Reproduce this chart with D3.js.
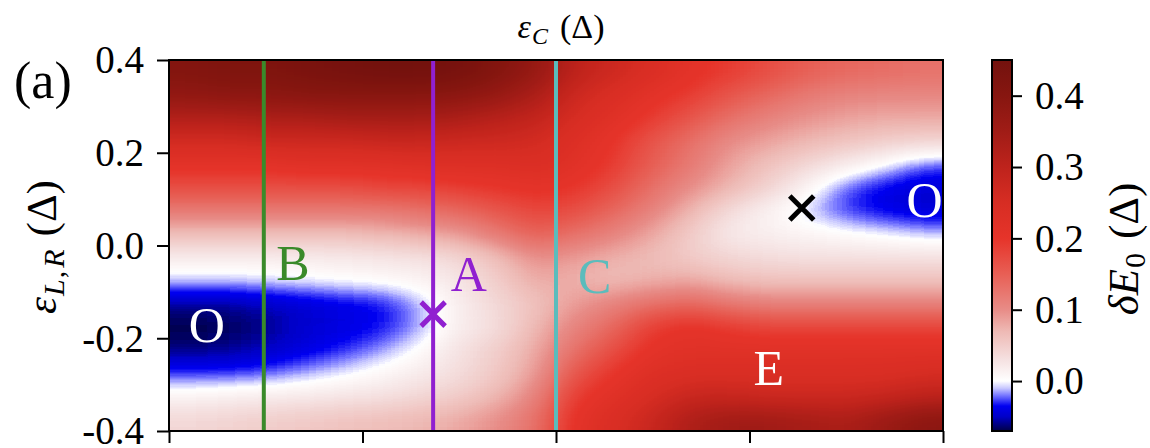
<!DOCTYPE html>
<html>
<head>
<meta charset="utf-8">
<script src="https://cdn.jsdelivr.net/npm/d3@7"></script>
<style>
body { margin: 0; background: #fff; }
svg text { font-family: "Liberation Serif", "DejaVu Serif", serif; fill: #000; }
</style>
</head>
<body>
<div id="chart"></div>
<script>
// eps_C cell centres (x) and eps_L,R cell centres (y), in units of Delta
const epsC = [-0.38,-0.34,-0.30,-0.26,-0.22,-0.18,-0.14,-0.10,-0.06,-0.02,0.02,0.06,0.10,0.14,0.18,0.22,0.26,0.30,0.34,0.38];
const epsLR = [0.375,0.325,0.275,0.225,0.175,0.125,0.075,0.025,-0.025,-0.075,-0.125,-0.175,-0.225,-0.275,-0.325,-0.375];

// delta E_0, one row per epsLR value
const dE0 = [
  [0.41,0.42,0.42,0.43,0.44,0.45,0.45,0.44,0.41,0.37,0.30,0.27,0.24,0.21,0.19,0.17,0.15,0.14,0.135,0.13],
  [0.38,0.39,0.39,0.40,0.40,0.40,0.40,0.39,0.37,0.33,0.27,0.24,0.21,0.19,0.16,0.14,0.12,0.11,0.105,0.105],
  [0.32,0.32,0.33,0.33,0.34,0.34,0.34,0.33,0.31,0.29,0.25,0.22,0.19,0.16,0.13,0.11,0.095,0.085,0.08,0.08],
  [0.26,0.26,0.27,0.27,0.27,0.28,0.28,0.27,0.27,0.26,0.23,0.20,0.16,0.13,0.10,0.085,0.07,0.06,0.05,0.045],
  [0.21,0.21,0.21,0.22,0.22,0.22,0.23,0.23,0.23,0.24,0.22,0.19,0.15,0.12,0.085,0.06,0.04,0.02,0.0,-0.025],
  [0.17,0.17,0.17,0.17,0.17,0.18,0.18,0.19,0.20,0.21,0.20,0.17,0.13,0.10,0.07,0.045,0.01,-0.025,-0.04,-0.045],
  [0.12,0.12,0.12,0.12,0.12,0.12,0.13,0.14,0.16,0.18,0.17,0.14,0.11,0.07,0.035,0.012,-0.008,-0.03,-0.04,-0.045],
  [0.065,0.065,0.065,0.065,0.065,0.07,0.08,0.09,0.12,0.15,0.13,0.11,0.08,0.05,0.02,0.015,0.01,0.003,-0.003,-0.01],
  [0.02,0.02,0.02,0.02,0.022,0.025,0.03,0.04,0.065,0.10,0.09,0.075,0.065,0.05,0.04,0.035,0.03,0.03,0.03,0.03],
  [-0.008,-0.008,-0.006,-0.003,0.002,0.005,0.012,0.025,0.05,0.08,0.075,0.065,0.075,0.08,0.065,0.06,0.06,0.06,0.06,0.06],
  [-0.058,-0.058,-0.052,-0.045,-0.04,-0.035,-0.012,0.018,0.04,0.06,0.09,0.11,0.13,0.14,0.12,0.11,0.11,0.11,0.11,0.11],
  [-0.07,-0.068,-0.06,-0.048,-0.042,-0.036,-0.015,0.018,0.035,0.07,0.11,0.14,0.19,0.21,0.19,0.18,0.18,0.18,0.18,0.18],
  [-0.062,-0.06,-0.052,-0.042,-0.032,-0.018,0.004,0.03,0.05,0.08,0.13,0.17,0.21,0.22,0.22,0.22,0.22,0.22,0.22,0.22],
  [-0.03,-0.03,-0.025,-0.015,-0.004,0.008,0.02,0.035,0.055,0.09,0.16,0.20,0.23,0.24,0.24,0.24,0.24,0.24,0.24,0.25],
  [0.012,0.015,0.02,0.022,0.025,0.03,0.04,0.05,0.07,0.11,0.19,0.22,0.25,0.28,0.28,0.27,0.27,0.27,0.28,0.30],
  [0.04,0.045,0.05,0.055,0.06,0.065,0.07,0.08,0.10,0.13,0.21,0.24,0.28,0.33,0.35,0.35,0.34,0.33,0.36,0.39]
];

const yTicks = [0.4, 0.2, 0.0, -0.2, -0.4];
const xTicks = [-0.4, -0.2, 0.0, 0.2, 0.4];
const cbTicks = [0.0, 0.1, 0.2, 0.3, 0.4];

// vertical cuts
const cutNames = ["B", "A", "C"];
const cutX = [-0.302, -0.127, 0.0];

// region labels
const regionText = ["O", "B", "A", "C", "E", "O"];
const regionX = [-0.361, -0.272, -0.090, 0.040, 0.220, 0.381];
const regionY = [-0.208, -0.074, -0.098, -0.102, -0.301, 0.061];

// crossing points
const crossX = [-0.127, 0.254];
const crossY = [-0.148, 0.081];

// colour map
const vMin = -0.07, vMax = 0.45;
const stopVals = [-0.07,-0.05,-0.035,-0.02,-0.01,0.0,0.03,0.07,0.10,0.15,0.20,0.25,0.30,0.35,0.40,0.45];
const stopCols = ["#000046","#0000c8","#0000f0","#7878ff","#c8c8ff","#ffffff","#f5e1e1","#eeb9b4","#e88c87","#e85f55","#e6342a","#d72d23","#be231c","#a01c16","#871610","#73120e"];

const regionCols = ["#fff", "#3a8a2a", "#9020d0", "#5bbcbc", "#fff", "#fff"];
const cutCols = ["#3a8a2a", "#9020d0", "#5bbcbc"];
const crossCols = ["#9020d0", "#000"];

const width = 1150, height = 448;
const pLeft = 169, pRight = 943, pTop = 60, pBottom = 431;

const svg = d3.select("#chart").append("svg")
  .attr("width", width)
  .attr("height", height);

const x = d3.scaleLinear().domain([-0.4, 0.4]).range([pLeft, pRight]);
const y = d3.scaleLinear().domain([-0.4, 0.4]).range([pBottom, pTop]);
const color = d3.scaleLinear().domain(stopVals).range(stopCols).clamp(true);
const norm = d3.scaleLinear().domain([vMin, vMax]).range([0, 255]).clamp(true);

const defs = svg.append("defs");
defs.append("clipPath").attr("id", "plotclip")
  .append("rect")
  .attr("x", pLeft).attr("y", pTop)
  .attr("width", pRight - pLeft).attr("height", pBottom - pTop);

// cells are painted as grey levels, smoothed, then run through the colour map
const lut = d3.range(209).map(k => d3.rgb(color(vMin + k / 208 * (vMax - vMin))));
const filt = defs.append("filter").attr("id", "smooth")
  .attr("filterUnits", "userSpaceOnUse")
  .attr("color-interpolation-filters", "sRGB")
  .attr("x", -100).attr("y", -100).attr("width", 1400).attr("height", 700);
filt.append("feGaussianBlur").attr("stdDeviation", "18 11");
const ct = filt.append("feComponentTransfer");
ct.append("feFuncR").attr("type", "table").attr("tableValues", lut.map(c => (c.r / 255).toFixed(4)).join(" "));
ct.append("feFuncG").attr("type", "table").attr("tableValues", lut.map(c => (c.g / 255).toFixed(4)).join(" "));
ct.append("feFuncB").attr("type", "table").attr("tableValues", lut.map(c => (c.b / 255).toFixed(4)).join(" "));

const cells = [];
dE0.forEach((row, j) => row.forEach((v, i) => cells.push({i: i, j: j, v: v})));
const hx = 0.02, hy = 0.025, pad = 80;

svg.append("g")
  .attr("clip-path", "url(#plotclip)")
  .append("g")
  .attr("filter", "url(#smooth)")
  .selectAll("rect")
  .data(cells)
  .enter()
  .append("rect")
  .attr("x", d => x(epsC[d.i] - hx) - (d.i === 0 ? pad : 0))
  .attr("y", d => y(epsLR[d.j] + hy) - (d.j === 0 ? pad : 0))
  .attr("width", d => x(epsC[d.i] + hx) - x(epsC[d.i] - hx) + 0.6 + (d.i === 0 || d.i === epsC.length - 1 ? pad : 0))
  .attr("height", d => y(epsLR[d.j] - hy) - y(epsLR[d.j] + hy) + 0.6 + (d.j === 0 || d.j === epsLR.length - 1 ? pad : 0))
  .attr("fill", d => { const g = Math.round(norm(d.v)); return d3.rgb(g, g, g); });

// vertical cuts
svg.selectAll(".cut")
  .data(cutX)
  .enter()
  .append("line")
  .attr("class", "cut")
  .attr("x1", d => x(d)).attr("x2", d => x(d))
  .attr("y1", y(0.4)).attr("y2", y(-0.4))
  .attr("stroke", (d, i) => cutCols[i])
  .attr("stroke-width", 4);

// region labels
svg.selectAll(".region")
  .data(regionText)
  .enter()
  .append("text")
  .attr("class", "region")
  .attr("x", (d, i) => x(regionX[i]))
  .attr("y", (d, i) => y(regionY[i]))
  .attr("text-anchor", "middle")
  .style("font-size", "50px")
  .style("fill", (d, i) => regionCols[i])
  .text(d => d);

// crosses
svg.selectAll(".cross")
  .data(crossX)
  .enter()
  .append("path")
  .attr("class", "cross")
  .attr("transform", (d, i) => "translate(" + x(d) + "," + y(crossY[i]) + ")")
  .attr("d", "M-12,-12L12,12M-12,12L12,-12")
  .attr("stroke", (d, i) => crossCols[i])
  .attr("stroke-width", 5)
  .attr("fill", "none");

// frame
svg.append("rect")
  .attr("x", pLeft).attr("y", pTop)
  .attr("width", pRight - pLeft).attr("height", pBottom - pTop)
  .attr("fill", "none").attr("stroke", "#000").attr("stroke-width", 2);

const fmt = d => d3.format(".1f")(d).replace("\u2212", "-");

const yAxis = svg.append("g")
  .attr("transform", "translate(" + pLeft + ",0)")
  .call(d3.axisLeft(y).tickValues(yTicks).tickSize(12).tickPadding(13).tickFormat(fmt));
yAxis.select(".domain").remove();
yAxis.selectAll("line").attr("stroke-width", 2);
yAxis.selectAll("text").style("font-size", "39px").style("font-family", "Liberation Serif").attr("dy", "0.33em");

const xAxis = svg.append("g")
  .attr("transform", "translate(0," + pBottom + ")")
  .call(d3.axisBottom(x).tickValues(xTicks).tickSize(12).tickFormat(""));
xAxis.select(".domain").remove();
xAxis.selectAll("line").attr("stroke-width", 2);

// colour bar
const cbLeft = 992, cbW = 20;
const cb = d3.scaleLinear().domain([vMin, vMax]).range([pBottom, pTop]);
const grad = defs.append("linearGradient").attr("id", "cbgrad")
  .attr("x1", 0).attr("y1", 1).attr("x2", 0).attr("y2", 0);
grad.selectAll("stop")
  .data(stopVals)
  .enter()
  .append("stop")
  .attr("offset", d => (d - vMin) / (vMax - vMin))
  .attr("stop-color", (d, i) => stopCols[i]);

svg.append("rect")
  .attr("x", cbLeft).attr("y", pTop)
  .attr("width", cbW).attr("height", pBottom - pTop)
  .attr("fill", "url(#cbgrad)")
  .attr("stroke", "#000").attr("stroke-width", 2);

const cbAxis = svg.append("g")
  .attr("transform", "translate(" + (cbLeft + cbW) + ",0)")
  .call(d3.axisRight(cb).tickValues(cbTicks).tickSize(10).tickPadding(13).tickFormat(fmt));
cbAxis.select(".domain").remove();
cbAxis.selectAll("line").attr("stroke-width", 2);
cbAxis.selectAll("text").style("font-size", "39px").style("font-family", "Liberation Serif").attr("dy", "0.33em");

// titles
const topLabel = svg.append("text")
  .attr("x", 561).attr("y", 38)
  .attr("text-anchor", "middle")
  .style("font-size", "34px");
topLabel.append("tspan").style("font-style", "italic").text("\u03b5");
topLabel.append("tspan").style("font-style", "italic").style("font-size", "24px").attr("dy", 6).attr("dx", 1).text("C");
topLabel.append("tspan").attr("dy", -6).attr("dx", 12).text("(\u0394)");

const ylab = svg.append("text")
  .attr("transform", "translate(56,247) rotate(-90)")
  .attr("text-anchor", "middle")
  .style("font-size", "43px");
ylab.append("tspan").style("font-style", "italic").text("\u03b5");
ylab.append("tspan").style("font-style", "italic").style("font-size", "30px").attr("dy", 8).attr("dx", 1).text("L");
ylab.append("tspan").style("font-size", "30px").attr("dx", 1).text(",");
ylab.append("tspan").style("font-style", "italic").style("font-size", "30px").attr("dx", 3).text("R");
ylab.append("tspan").attr("dy", -8).attr("dx", 13).text("(\u0394)");

const cblab = svg.append("text")
  .attr("transform", "translate(1138,249) rotate(-90)")
  .attr("text-anchor", "middle")
  .style("font-size", "43px");
cblab.append("tspan").style("font-style", "italic").text("\u03b4E");
cblab.append("tspan").style("font-size", "30px").attr("dy", 7).attr("dx", 1).text("0");
cblab.append("tspan").attr("dy", -7).attr("dx", 14).text("(\u0394)");

svg.append("text")
  .attr("x", 14).attr("y", 98)
  .style("font-size", "52px")
  .text("(a)");
</script>
</body>
</html>
